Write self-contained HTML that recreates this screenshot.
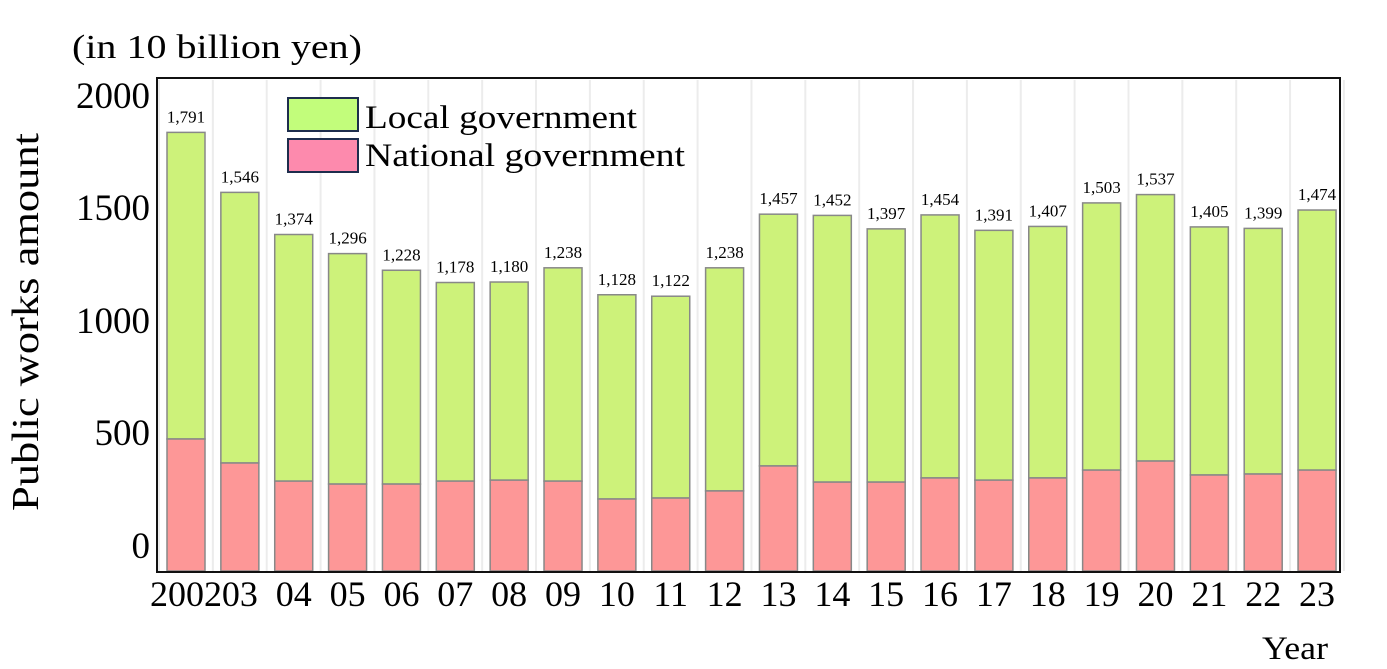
<!DOCTYPE html>
<html><head><meta charset="utf-8"><style>
html,body{margin:0;padding:0;background:#fff;}
svg{display:block;font-family:"Liberation Serif",serif;}
</style></head><body>
<svg id="chart" width="1387" height="669">
<text x="72" y="58" font-size="34" textLength="290" lengthAdjust="spacingAndGlyphs">(in 10 billion yen)</text>
<text transform="translate(38,322) rotate(-90)" text-anchor="middle" font-size="38" textLength="378" lengthAdjust="spacingAndGlyphs">Public works amount</text>
<text x="1262" y="659" font-size="33" textLength="66" lengthAdjust="spacingAndGlyphs">Year</text>
<g id="grid"></g>
<g id="bars"></g>
<rect x="157" y="78" width="1183" height="494" fill="none" stroke="#111" stroke-width="2"/>
<g id="yticks"></g>
<g id="xticks"></g>
<g>
<rect x="288" y="98" width="70" height="33" fill="#c2fd7b" stroke="#1d2d4d" stroke-width="2"/>
<text x="365" y="128" font-size="33" textLength="272" lengthAdjust="spacingAndGlyphs">Local government</text>
<rect x="288" y="139" width="70" height="33" fill="#fd8aad" stroke="#1d2d4d" stroke-width="2"/>
<text x="365" y="166" font-size="33" textLength="320" lengthAdjust="spacingAndGlyphs">National government</text>
</g>
</svg>
<script>
const years=["2002","03","04","05","06","07","08","09","10","11","12","13","14","15","16","17","18","19","20","21","22","23"];
const totals=[1791,1546,1374,1296,1228,1178,1180,1238,1128,1122,1238,1457,1452,1397,1454,1391,1407,1503,1537,1405,1399,1474];
const national=[539,441,367,355,355,367,371,367,294,298,327,429,363,363,380,371,380,412,449,392,396,412];
const yTickLabels=["0","500","1000","1500","2000"];
const yTickPos=[545,432,320,207,95];
const NS="http://www.w3.org/2000/svg";
const y0=571, k=0.2449, x0=167, step=53.86, bw=38;
const Y=v=>y0-v*k, X=i=>x0+i*step;
function mk(t,a,p){const e=document.createElementNS(NS,t);for(const n in a)e.setAttribute(n,a[n]);p.appendChild(e);return e;}
const grid=document.getElementById('grid'),bars=document.getElementById('bars'),yt=document.getElementById('yticks'),xt=document.getElementById('xticks');
for(let i=0;i<=years.length;i++){const g=mk('line',{x1:X(i)-8,x2:X(i)-8,y1:80,y2:571,stroke:'#ececec','stroke-width':2},grid);

}
years.forEach((yr,i)=>{
const x=X(i);
const l=mk('rect',{x:x,y:Y(totals[i]),width:bw,height:(totals[i]-national[i])*k,fill:'#cdf27a',stroke:'#888','stroke-width':1.5},bars);


const n=mk('rect',{x:x,y:Y(national[i]),width:bw,height:national[i]*k,fill:'#fd9797',stroke:'#888','stroke-width':1.5},bars);


const t=mk('text',{x:x+bw/2,y:Y(totals[i])-10,'text-anchor':'middle','font-size':17},bars);
t.textContent=totals[i].toLocaleString('en-US');


const xl=mk('text',{x:x+bw/2,y:606,'text-anchor':'middle','font-size':36},xt);
xl.textContent=yr;


});
yTickLabels.forEach((s,i)=>{const t=mk('text',{x:150,y:yTickPos[i]+13,'text-anchor':'end','font-size':37},yt);
t.textContent=s;

});
</script>
</body></html>
